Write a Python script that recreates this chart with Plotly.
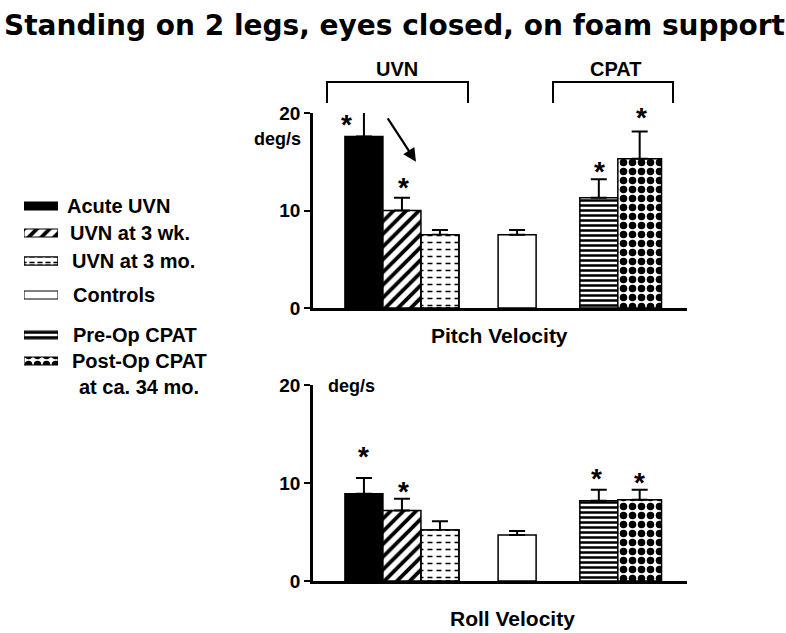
import plotly.graph_objects as go

# ---------------- data ----------------
groups = ["Acute UVN", "UVN at 3 wk.", "UVN at 3 mo.", "Controls",
          "Pre-Op CPAT", "Post-Op CPAT at ca. 34 mo."]
pitch_mean = [17.6, 10.0, 7.5, 7.5, 11.3, 15.3]
pitch_err = [2.5, 1.3, 0.5, 0.5, 1.9, 2.8]
roll_mean = [8.9, 7.2, 5.2, 4.7, 8.2, 8.3]
roll_err = [1.6, 1.2, 0.9, 0.4, 1.1, 1.0]
pitch_sig = [True, True, False, False, True, True]
roll_sig = [True, True, False, False, True, True]
y_ticks = [0, 10, 20]
panel_titles = ["Pitch Velocity", "Roll Velocity"]
unit_label = "deg/s"
title_text = "Standing on 2 legs, eyes closed, on foam support"
bracket_labels = ["UVN", "CPAT"]
legend_lines = [["Acute UVN"], ["UVN at 3 wk."], ["UVN at 3 mo."], ["Controls"],
                ["Pre-Op CPAT"], ["Post-Op CPAT", "at ca. 34 mo."]]

# ---------------- layout helpers ----------------
W, H = 786, 633
def px(x):
    return x / W
def py(y):
    return 1 - y / H

x_pos = [0, 1, 2, 4.03, 6.18, 7.255]
widths = [1, 1, 1, 1, 1, 1.15]
x_range = [-1.34, 8.5]
X_DOM = [px(313), px(687)]
TOP_DOM = [py(308), py(113)]
BOT_DOM = [py(581), py(385)]
Y_RANGE = [0, 20]

def xp(v):
    return X_DOM[0] + (v - x_range[0]) / (x_range[1] - x_range[0]) * (X_DOM[1] - X_DOM[0])
def yp(v, dom):
    return dom[0] + (v - Y_RANGE[0]) / (Y_RANGE[1] - Y_RANGE[0]) * (dom[1] - dom[0])

styles = [
    dict(color="black", pattern=dict(shape="")),
    dict(color="white", pattern=dict(shape="/", fgcolor="black", bgcolor="white", size=9,
                                     solidity=0.42, fgopacity=1)),
    dict(color="white", pattern=dict(shape="-", fgcolor="black", bgcolor="white", size=7,
                                     solidity=0.22, fgopacity=1)),
    dict(color="white", pattern=dict(shape="")),
    dict(color="white", pattern=dict(shape="-", fgcolor="black", bgcolor="white", size=5,
                                     solidity=0.5, fgopacity=1)),
    dict(color="white", pattern=dict(shape=".", fgcolor="black", bgcolor="white", size=9,
                                     solidity=0.55, fgopacity=1)),
]
# white vertical breaks turn the lines of "UVN at 3 mo." into dashes
dash_break = dict(shape="|", fgcolor="white", bgcolor="rgba(0,0,0,0)", size=9, solidity=0.45,
                  fgopacity=1)
DASHED = 2

FONT = "Liberation Sans, Arial, sans-serif"

fig = go.Figure()
for panel, (means, errs, xa, ya) in enumerate([(pitch_mean, pitch_err, "x", "y"),
                                                (roll_mean, roll_err, "x2", "y2")]):
    for i, g in enumerate(groups):
        fig.add_trace(go.Bar(
            x=[x_pos[i]], y=[means[i]], width=[widths[i]], name=g, showlegend=False,
            marker=dict(color=styles[i]["color"], pattern=styles[i]["pattern"], opacity=1,
                        line=dict(color="black", width=1.5)),
            error_y=dict(type="data", array=[errs[i]], arrayminus=[0], symmetric=False,
                         color="black", thickness=2, width=8),
            xaxis=xa, yaxis=ya,
        ))
        if i == DASHED:
            fig.add_trace(go.Bar(
                x=[x_pos[i]], y=[means[i]], width=[widths[i]], name=g, showlegend=False,
                marker=dict(color="rgba(0,0,0,0)", pattern=dash_break, opacity=1,
                            line=dict(color="black", width=1.5)),
                xaxis=xa, yaxis=ya, hoverinfo="skip",
            ))

# ---------------- hand-made legend (swatches in a hidden axis, pixel units) ----------------
legend_rows = [206, 233, 261, 295, 335, 361]
legend_text_x = [65, 68, 70, 71, 71, 70]
for i, g in enumerate(groups):
    fig.add_trace(go.Bar(
        x=[1], y=[legend_rows[i]], base=[0], width=[8], orientation="h", name=g, showlegend=False,
        marker=dict(color=styles[i]["color"], pattern=styles[i]["pattern"], opacity=1,
                    line=dict(color="black", width=1)),
        xaxis="x3", yaxis="y3", hoverinfo="skip",
    ))
    if i == DASHED:
        fig.add_trace(go.Bar(
            x=[1], y=[legend_rows[i]], base=[0], width=[8], orientation="h", showlegend=False,
            marker=dict(color="rgba(0,0,0,0)", pattern=dict(dash_break, size=8, solidity=0.35),
                        opacity=1, line=dict(color="black", width=1)),
            xaxis="x3", yaxis="y3", hoverinfo="skip",
        ))

axis_common = dict(showgrid=False, zeroline=False, showline=True, linecolor="black",
                   linewidth=2.5, automargin=False)
hidden = dict(visible=False, showgrid=False, zeroline=False, automargin=False)
fig.update_layout(
    width=W, height=H,
    margin=dict(l=0, r=0, t=0, b=0, pad=0, autoexpand=False),
    paper_bgcolor="white", plot_bgcolor="rgba(0,0,0,0)",
    barmode="overlay",
    showlegend=False,
    font=dict(family=FONT, color="black", size=16),
    xaxis=dict(domain=X_DOM, range=x_range, showticklabels=False, ticks="",
               anchor="y", **axis_common),
    yaxis=dict(domain=TOP_DOM, range=Y_RANGE, tickvals=y_ticks,
               ticks="outside", ticklen=6, tickwidth=2, tickcolor="black",
               tickfont=dict(size=19, family=FONT, weight="bold"), anchor="x", **axis_common),
    xaxis2=dict(domain=X_DOM, range=x_range, showticklabels=False, ticks="",
                anchor="y2", **axis_common),
    yaxis2=dict(domain=BOT_DOM, range=Y_RANGE, tickvals=y_ticks,
                ticks="outside", ticklen=6, tickwidth=2, tickcolor="black",
                tickfont=dict(size=19, family=FONT, weight="bold"), anchor="x2", **axis_common),
    xaxis3=dict(domain=[px(24), px(58)], range=[0, 1], anchor="y3", **hidden),
    yaxis3=dict(domain=[0, 1], range=[H, 0], anchor="x3", **hidden),
)

def text_ann(text, x, y, size, xanchor="center", yanchor="middle", family=None):
    font = dict(size=size)
    if family:
        font["family"] = family
    return dict(text=text, x=x, y=y, xref="paper", yref="paper", showarrow=False,
                xanchor=xanchor, yanchor=yanchor, font=font)

ann = []
ann.append(text_ann(f"<b>{title_text}</b>", px(394), py(25), 28,
                    family="Comic Sans MS, DejaVu Sans, sans-serif"))
ann.append(text_ann(f"<b>{panel_titles[0]}</b>", px(499), py(335), 21))
ann.append(text_ann(f"<b>{panel_titles[1]}</b>", px(512), py(618), 21))
ann.append(text_ann(f"<b>{unit_label}</b>", px(303), py(139), 18, xanchor="right"))
ann.append(text_ann(f"<b>{unit_label}</b>", px(326), py(386), 18, xanchor="left"))
for i, lines in enumerate(legend_lines):
    for k, line in enumerate(lines):
        ann.append(text_ann(f"<b>{line}</b>", px(legend_text_x[i] + 7 * k),
                            py(legend_rows[i] + 26 * k), 20, xanchor="left"))

# significance stars
top_star_dx = [-0.45, 0.03, 0, 0, 0.02, 0.05]
top_star_dy = [-0.8, 1.6, 0, 0, 1.3, 2.0]
bot_star_dx = [0, 0.05, 0, 0, -0.05, 0.0]
bot_star_dy = [2.7, 1.2, 0, 0, 1.7, 1.3]
for i in range(len(groups)):
    if pitch_sig[i]:
        a = text_ann("<b>*</b>", xp(x_pos[i] + top_star_dx[i]),
                     yp(pitch_mean[i] + pitch_err[i] + top_star_dy[i], TOP_DOM), 28)
        a["yshift"] = -5
        ann.append(a)
    if roll_sig[i]:
        a = text_ann("<b>*</b>", xp(x_pos[i] + bot_star_dx[i]),
                     yp(roll_mean[i] + roll_err[i] + bot_star_dy[i], BOT_DOM), 28)
        a["yshift"] = -5
        ann.append(a)

# arrow showing the UVN decrease
ann.append(dict(x=1.37, y=15.0, ax=0.6, ay=19.6, xref="x", yref="y", axref="x", ayref="y",
                showarrow=True, arrowhead=2, arrowsize=1.2, arrowwidth=2.2, arrowcolor="black", text=""))

# bracket labels
ann.append(text_ann(f"<b>{bracket_labels[0]}</b>", px(397), py(69), 20))
ann.append(text_ann(f"<b>{bracket_labels[1]}</b>", px(615), py(69), 20))
fig.update_layout(annotations=ann)

# brackets
shapes = []
for x0, x1 in [(327, 468), (553, 673)]:
    shapes.append(dict(type="path", xref="paper", yref="paper",
                       path=f"M {px(x0)} {py(103)} L {px(x0)} {py(82)} L {px(x1)} {py(82)} L {px(x1)} {py(103)}",
                       line=dict(color="black", width=2)))
fig.update_layout(shapes=shapes)

fig.write_html("out.html", config={"displayModeBar": False},
               post_script="document.body.style.margin='0';")
